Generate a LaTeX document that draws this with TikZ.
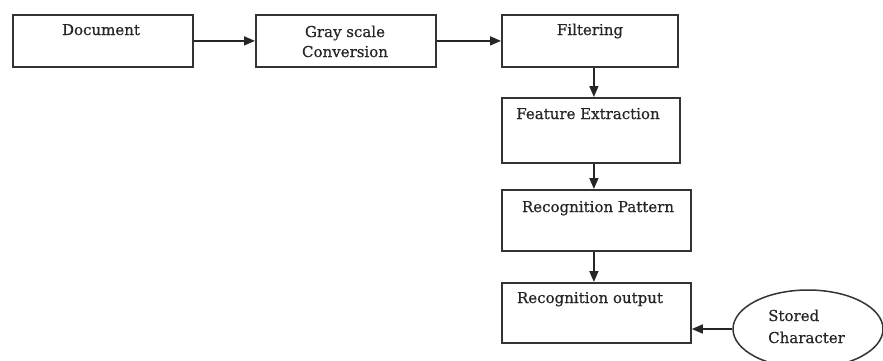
\documentclass[tikz,border=0pt]{standalone}
\usepackage{fontspec}
\setmainfont[FakeBold=0.6]{DejaVu Serif}
\usepackage{xcolor}
\usetikzlibrary{shapes,positioning,calc,arrows.meta}

\begin{document}
\begin{tikzpicture}[x=1pt, y=-1pt,
    stagebox/.style={draw=black!80, line width=1.8pt, inner sep=0pt, anchor=north west},
    caption/.style={anchor=base, text=black!85, font=\fontsize{15}{20}\selectfont, inner sep=0pt},
    flow/.style={draw=black!85, line width=1.6pt, -{Triangle[length=11pt, width=9pt]}}]
    \useasboundingbox (0,0) rectangle (883,360);
    % boxes of the pipeline
    \node[stagebox, minimum width=180, minimum height=52] (doc) at (12,14) {};
    \node[stagebox, minimum width=180, minimum height=52] (gray) at (255,14) {};
    \node[stagebox, minimum width=176, minimum height=52] (filt) at (501,14) {};
    \node[stagebox, minimum width=178, minimum height=65] (feat) at (501,97) {};
    \node[stagebox, minimum width=189, minimum height=61] (patt) at (501,189) {};
    \node[stagebox, minimum width=189, minimum height=60] (outp) at (501,282) {};
    \node[ellipse, draw=black!80, line width=1.5pt, minimum width=150, minimum height=78] (store) at (808,329) {};
    % texts
    \node[caption] (doctext) at (101,35) {Document};
    \node[caption] (graytext1) at (345,37) {Gray scale};
    \node[caption] (graytext2) at (345,57) {Conversion};
    \node[caption] (filttext) at (590,35) {Filtering};
    \node[caption] (feattext) at (588,119) {Feature Extraction};
    \node[caption] (patttext) at (598,212) {Recognition Pattern};
    \node[caption] (outptext) at (590,303) {Recognition output};
    \node[caption, anchor=base west] (storetext1) at (768,321) {Stored};
    \node[caption, anchor=base west] (storetext2) at (768,343) {Character};
    % arrows
    \draw[flow] (doc.east) -- (gray.west);
    \draw[flow] (gray.east) -- (filt.west);
    \draw[flow] ([xshift=4]filt.south) -- ([xshift=4]filt.south |- feat.north);
    \draw[flow] ([xshift=3]feat.south) -- ([xshift=3]feat.south |- patt.north);
    \draw[flow] ([xshift=-2.5]patt.south) -- ([xshift=-2.5]patt.south |- outp.north);
    \draw[flow] (store.west) -- (store.west -| outp.east);
\end{tikzpicture}
\end{document}
